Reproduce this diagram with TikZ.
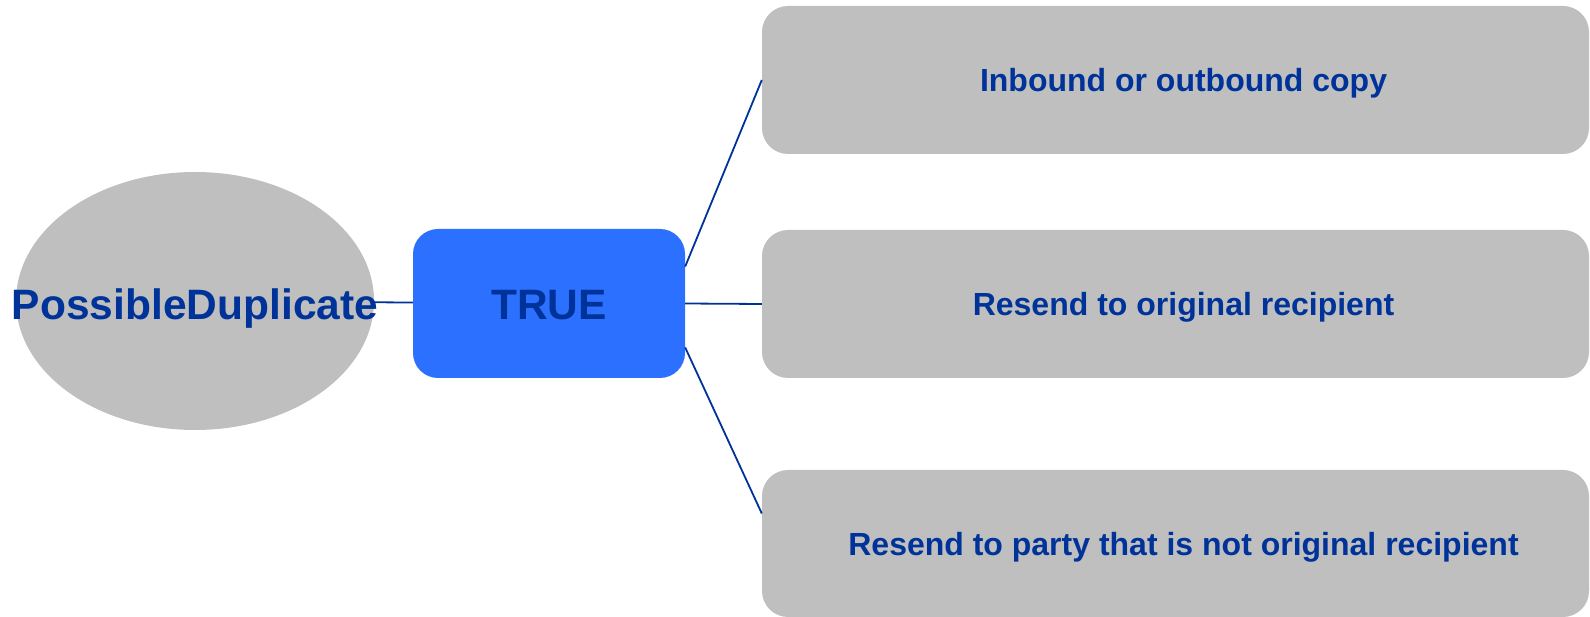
\documentclass[tikz,border=0pt]{standalone}
\usepackage{fontspec}
\setmainfont{Liberation Sans}
\usepackage{tikz}
\usetikzlibrary{shapes.geometric}

\definecolor{caseGray}{RGB}{191,191,191}
\definecolor{trueBlue}{RGB}{44,112,255}
\definecolor{darkBlue}{RGB}{0,51,153}

\begin{document}
\begin{tikzpicture}[x=1pt,y=1pt,
    every node/.style={inner sep=0pt,text=darkBlue,font=\bfseries},
    fieldball/.style={ellipse,fill=caseGray,minimum width=358,minimum height=258},
    bigtext/.style={font=\fontsize{42.5}{50}\selectfont\bfseries},
    valuebox/.style={rectangle,rounded corners=25,fill=trueBlue,minimum width=272,minimum height=149},
    casebox/.style={rectangle,rounded corners=26,fill=caseGray,minimum width=827,minimum height=148},
    casetext/.style={font=\fontsize{32}{38}\selectfont\bfseries,xshift=8pt,yshift=-3.5pt},
    link/.style={draw=darkBlue,line width=1.8pt}]

    % frame of the whole picture
    \useasboundingbox (0,0) rectangle (1590,616);

    \node[fieldball,label={[bigtext,yshift=-8pt]center:PossibleDuplicate}] (dup) at (195,315) {};
    \node[valuebox,label={[bigtext,yshift=-2pt]center:TRUE}] (true) at (549,312.5) {};

    %the three cases
    \node[casebox,label={[casetext]center:Inbound or outbound copy}] (copy) at (1175.5,536) {};
    \node[casebox,label={[casetext]center:Resend to original recipient}] (orig) at (1175.5,312) {};
    \node[casebox,minimum height=147,
        label={[casetext]center:Resend to party that is not original recipient}] (party) at (1175.5,72.5) {};

    \draw[link] (dup) -- (true);
    \draw[link] ([yshift=37pt]true.east) -- (copy.west);
    \draw[link] (true.east) -- (orig.west);
    \draw[link] ([yshift=-44pt]true.east) -- ([yshift=30pt]party.west);

\end{tikzpicture}
\end{document}
